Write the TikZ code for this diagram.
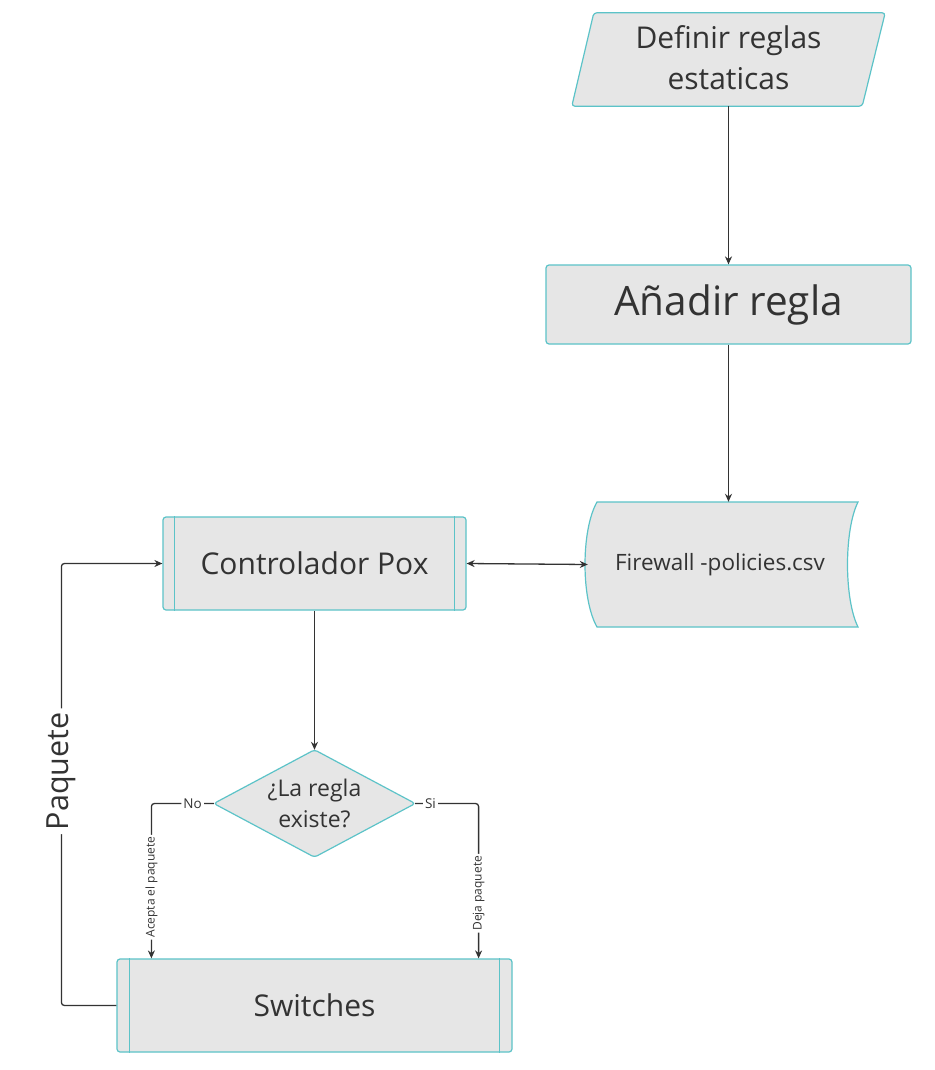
\documentclass[tikz,border=0pt]{standalone}
\usepackage{fontspec}
\setmainfont{Open Sans}
\usetikzlibrary{arrows.meta,calc}
\definecolor{boxfill}{HTML}{E6E6E6}
\definecolor{boxline}{HTML}{5CC3C8}
\definecolor{ink}{HTML}{333333}
\tikzset{
  shapeline/.style={draw=boxline, fill=boxfill, line width=1.2pt, rounded corners=3pt},
  txt/.style={text=ink, inner sep=0pt, align=center},
  conn/.style={draw=ink, line width=1.3pt, -{Stealth[length=8pt,width=7pt]}},
  lbl/.style={fill=white, text=ink, inner sep=2pt},
}
\begin{document}
\begin{tikzpicture}[x=1pt,y=-1pt]
\useasboundingbox[fill=white] (0,0) rectangle (934,1070);

% Definir reglas estaticas (parallelogram)
\node[txt, minimum width=313pt, minimum height=93pt] (def) at (728.5,59.5) {};
\path[shapeline] ([xshift=22pt]def.north west) -- (def.north east) -- ([xshift=-23pt]def.south east) -- (def.south west) -- cycle;
\node[txt, font=\fontsize{30}{41}\selectfont] at ([yshift=2pt]def.center) {Definir reglas\\estaticas};

% Anadir regla
\node[shapeline, txt, minimum width=365pt, minimum height=79pt, font=\fontsize{40.5}{46}\selectfont] (ana) at (728.5,304.5) {Añadir regla};

% Firewall (stored data)
\node[txt, minimum width=270pt, minimum height=125pt] (fw) at (723,564.5) {};
\path[draw=boxline, fill=boxfill, line width=1.2pt]
  (597,502) -- (858,502) .. controls (844,530) and (844,599) .. (858,627)
  -- (597,627) .. controls (581,599) and (581,530) .. (597,502) -- cycle;
\node[txt, font=\fontsize{22.5}{26}\selectfont] at ([xshift=-3pt]fw.center) {Firewall -policies.csv};

% Controlador Pox
\node[shapeline, txt, minimum width=303pt, minimum height=93pt, font=\fontsize{30}{36}\selectfont] (ctrl) at (314.5,563.5) {Controlador Pox};
\draw[boxline, line width=1.2pt] ([xshift=12pt]ctrl.north west) -- ([xshift=12pt]ctrl.south west);
\draw[boxline, line width=1.2pt] ([xshift=-12pt]ctrl.north east) -- ([xshift=-12pt]ctrl.south east);

% Decision
\node[txt, minimum width=201pt, minimum height=107pt] (q) at (314.5,803.5) {};
\path[shapeline] (q.north) -- (q.east) -- (q.south) -- (q.west) -- cycle;
\node[txt, font=\fontsize{23}{31}\selectfont] at (q) {¿La regla\\existe?};

% Switches
\node[shapeline, txt, minimum width=395pt, minimum height=93pt, font=\fontsize{30}{36}\selectfont] (sw) at (314.5,1005.5) {Switches};
\draw[boxline, line width=1.2pt] ([xshift=13pt]sw.north west) -- ([xshift=13pt]sw.south west);
\draw[boxline, line width=1.2pt] ([xshift=-13pt]sw.north east) -- ([xshift=-13pt]sw.south east);

% connectors
\draw[conn] (def.south -| ana.north) -- (ana.north);
\draw[conn] (ana.south) -- (ana.south |- fw.north);
\draw[conn, {Stealth[length=8pt,width=7pt]}-{Stealth[length=8pt,width=7pt]}] (ctrl.east) -- (fw.west);
\draw[conn] (ctrl.south) -- (q.north);

\draw[conn, rounded corners=3pt] (q.west) -| 
  node[lbl, pos=0.17, font=\fontsize{13.5}{15}\selectfont] {No}
  node[lbl, pos=0.77, rotate=90, font=\fontsize{12}{13}\selectfont] {Acepta el paquete}
  ([xshift=35pt]sw.north west);
\draw[conn, rounded corners=3pt] (q.east) -| 
  node[lbl, pos=0.12, font=\fontsize{13.5}{15}\selectfont] {Si}
  node[lbl, pos=0.79, rotate=90, font=\fontsize{12}{13}\selectfont] {Deja paquete}
  ([xshift=-34pt]sw.north east);

\draw[conn, rounded corners=3pt] (sw.west) -- ++(-55,0) |-
  node[lbl, pos=0.265, rotate=90, inner sep=4pt, font=\fontsize{30.5}{36}\selectfont] {Paquete}
  (ctrl.west);
\end{tikzpicture}
\end{document}
